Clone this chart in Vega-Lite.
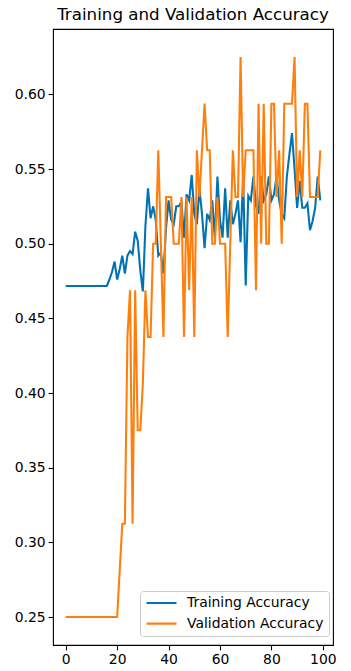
{
  "$schema": "https://vega.github.io/schema/vega-lite/v6.json",
  "width": 280,
  "height": 616,
  "autosize": {"type": "none"},
  "padding": {"left": 53, "top": 29, "right": 18, "bottom": 26},
  "background": "white",
  "config": {
    "view": {"stroke": "black", "strokeWidth": 1.1},
    "font": "DejaVu Sans"
  },
  "title": {"text": "Training and Validation Accuracy", "font": "DejaVu Sans", "fontSize": 16.7, "fontWeight": "normal", "color": "black", "anchor": "middle", "offset": 5},
  "data": {"values": [
    {"epoch":0,"T":0.4717,"V":0.25},{"epoch":1,"T":0.4717,"V":0.25},{"epoch":2,"T":0.4717,"V":0.25},{"epoch":3,"T":0.4717,"V":0.25},{"epoch":4,"T":0.4717,"V":0.25},
    {"epoch":5,"T":0.4717,"V":0.25},{"epoch":6,"T":0.4717,"V":0.25},{"epoch":7,"T":0.4717,"V":0.25},{"epoch":8,"T":0.4717,"V":0.25},{"epoch":9,"T":0.4717,"V":0.25},
    {"epoch":10,"T":0.4717,"V":0.25},{"epoch":11,"T":0.4717,"V":0.25},{"epoch":12,"T":0.4717,"V":0.25},{"epoch":13,"T":0.4717,"V":0.25},{"epoch":14,"T":0.4717,"V":0.25},
    {"epoch":15,"T":0.4717,"V":0.25},{"epoch":16,"T":0.4717,"V":0.25},{"epoch":17,"T":0.476,"V":0.25},{"epoch":18,"T":0.481,"V":0.25},{"epoch":19,"T":0.488,"V":0.25},
    {"epoch":20,"T":0.476,"V":0.25},{"epoch":21,"T":0.483,"V":0.28125},{"epoch":22,"T":0.492,"V":0.3125},{"epoch":23,"T":0.480,"V":0.3125},{"epoch":24,"T":0.492,"V":0.4375},
    {"epoch":25,"T":0.495,"V":0.46875},{"epoch":26,"T":0.493,"V":0.3125},{"epoch":27,"T":0.508,"V":0.46875},{"epoch":28,"T":0.502,"V":0.375},{"epoch":29,"T":0.482,"V":0.375},
    {"epoch":30,"T":0.468,"V":0.40625},{"epoch":31,"T":0.512,"V":0.46875},{"epoch":32,"T":0.537,"V":0.4375},{"epoch":33,"T":0.517,"V":0.4375},{"epoch":34,"T":0.525,"V":0.5},
    {"epoch":35,"T":0.516,"V":0.5},{"epoch":36,"T":0.492,"V":0.5625},{"epoch":37,"T":0.494,"V":0.5},{"epoch":38,"T":0.480,"V":0.4375},{"epoch":39,"T":0.510,"V":0.53125},
    {"epoch":40,"T":0.529,"V":0.53125},{"epoch":41,"T":0.516,"V":0.53125},{"epoch":42,"T":0.513,"V":0.5},{"epoch":43,"T":0.525,"V":0.5},{"epoch":44,"T":0.525,"V":0.5},
    {"epoch":45,"T":0.528,"V":0.53125},{"epoch":46,"T":0.504,"V":0.4375},{"epoch":47,"T":0.533,"V":0.53125},{"epoch":48,"T":0.529,"V":0.46875},{"epoch":49,"T":0.546,"V":0.53125},
    {"epoch":50,"T":0.520,"V":0.4375},{"epoch":51,"T":0.513,"V":0.5625},{"epoch":52,"T":0.537,"V":0.53125},{"epoch":53,"T":0.520,"V":0.5625},{"epoch":54,"T":0.497,"V":0.59375},
    {"epoch":55,"T":0.520,"V":0.5625},{"epoch":56,"T":0.516,"V":0.5625},{"epoch":57,"T":0.529,"V":0.5},{"epoch":58,"T":0.504,"V":0.5},{"epoch":59,"T":0.545,"V":0.53125},
    {"epoch":60,"T":0.516,"V":0.5},{"epoch":61,"T":0.504,"V":0.5},{"epoch":62,"T":0.537,"V":0.5},{"epoch":63,"T":0.504,"V":0.4375},{"epoch":64,"T":0.529,"V":0.5},
    {"epoch":65,"T":0.513,"V":0.5625},{"epoch":66,"T":0.520,"V":0.53125},{"epoch":67,"T":0.529,"V":0.53125},{"epoch":68,"T":0.501,"V":0.625},{"epoch":69,"T":0.545,"V":0.53125},
    {"epoch":70,"T":0.472,"V":0.5625},{"epoch":71,"T":0.532,"V":0.5625},{"epoch":72,"T":0.529,"V":0.5625},{"epoch":73,"T":0.545,"V":0.5625},{"epoch":74,"T":0.525,"V":0.46875},
    {"epoch":75,"T":0.520,"V":0.59375},{"epoch":76,"T":0.545,"V":0.5},{"epoch":77,"T":0.529,"V":0.59375},{"epoch":78,"T":0.533,"V":0.5},{"epoch":79,"T":0.545,"V":0.5},
    {"epoch":80,"T":0.529,"V":0.59375},{"epoch":81,"T":0.533,"V":0.59375},{"epoch":82,"T":0.545,"V":0.53125},{"epoch":83,"T":0.529,"V":0.5625},{"epoch":84,"T":0.520,"V":0.5},
    {"epoch":85,"T":0.517,"V":0.59375},{"epoch":86,"T":0.545,"V":0.59375},{"epoch":87,"T":0.560,"V":0.59375},{"epoch":88,"T":0.574,"V":0.59375},{"epoch":89,"T":0.550,"V":0.625},
    {"epoch":90,"T":0.524,"V":0.53125},{"epoch":91,"T":0.542,"V":0.5625},{"epoch":92,"T":0.524,"V":0.53125},{"epoch":93,"T":0.524,"V":0.59375},{"epoch":94,"T":0.527,"V":0.59375},
    {"epoch":95,"T":0.509,"V":0.53125},{"epoch":96,"T":0.515,"V":0.53125},{"epoch":97,"T":0.524,"V":0.53125},{"epoch":98,"T":0.545,"V":0.53125},{"epoch":99,"T":0.529,"V":0.5625}
  ]},
  "transform": [{"fold": ["T", "V"], "as": ["series", "acc"]}],
  "encoding": {
    "x": {"field": "epoch", "type": "quantitative",
      "scale": {"domain": [-4.95, 103.95], "nice": false, "zero": false},
      "axis": {"values": [0, 20, 40, 60, 80, 100], "title": null, "grid": false, "domain": false,
        "tickColor": "black", "tickSize": 4.9, "tickWidth": 1.1, "labelPadding": 3,
        "labelFont": "DejaVu Sans", "labelFontSize": 13.9, "labelColor": "black"}},
    "y": {"field": "acc", "type": "quantitative",
      "scale": {"domain": [0.23125, 0.64375], "nice": false, "zero": false},
      "axis": {"values": [0.25, 0.3, 0.35, 0.4, 0.45, 0.5, 0.55, 0.6], "format": ".2f", "title": null, "grid": false, "domain": false,
        "tickColor": "black", "tickSize": 4.9, "tickWidth": 1.1, "labelPadding": 3,
        "labelFont": "DejaVu Sans", "labelFontSize": 13.9, "labelColor": "black"}},
    "color": {"field": "series", "type": "nominal",
      "scale": {"domain": ["T", "V"], "range": ["#0173b2", "#ff7f0e"]},
      "legend": {"title": null, "orient": "none", "legendX": 87, "legendY": 562,
        "labelExpr": "datum.value == 'T' ? 'Training Accuracy' : 'Validation Accuracy'",
        "symbolType": "stroke", "symbolSize": 900, "symbolStrokeWidth": 2.08,
        "labelFont": "DejaVu Sans", "labelFontSize": 13.9, "labelColor": "black", "labelOffset": 9,
        "rowPadding": 6.6, "clipHeight": 14, "padding": 5,
        "strokeColor": "#cccccc", "fillColor": "rgba(255,255,255,0.8)", "cornerRadius": 3}}
  },
  "layer": [
    {"transform": [{"filter": "datum.series == 'T'"}],
     "mark": {"type": "line", "strokeWidth": 2.08, "clip": true}},
    {"transform": [{"filter": "datum.series == 'V'"}],
     "mark": {"type": "line", "strokeWidth": 2.08, "clip": true}}
  ]
}
